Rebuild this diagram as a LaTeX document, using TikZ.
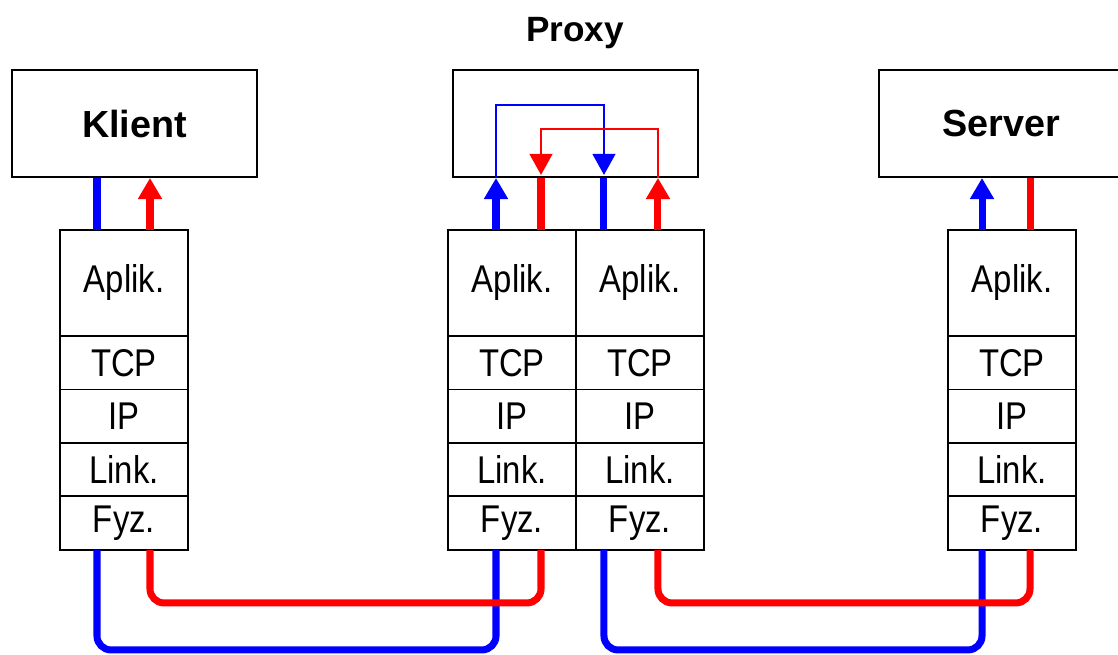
\documentclass[tikz,border=0pt]{standalone}
\usepackage{fontspec}
\newfontfamily\stackfont[FakeStretch=0.85]{Liberation Sans}
\newfontfamily\titlefont{Liberation Sans}
\usetikzlibrary{arrows.meta, positioning, calc}

\begin{document}
\begin{tikzpicture}[
                x=0.02cm, y=-0.02cm,
                node distance=0pt,
                host/.style={draw, line width=1.1pt, minimum width=4.9cm, minimum height=2.14cm,
                    font=\titlefont\fontsize{21.5}{24}\selectfont\bfseries},
                layer/.style={draw, line width=1.1pt, outer sep=0pt, inner sep=0pt,
                    minimum width=2.56cm, font=\stackfont\fontsize{22}{24}\selectfont},
                app/.style={layer, minimum height=2.12cm},
                low/.style={layer, minimum height=1.07cm},
                wire/.style={line width=4pt},
                relay/.style={line width=1.1pt},
                tip/.style={-{Triangle[length=12pt, width=13pt]}}
            ]
                \useasboundingbox (0,0) rectangle (1118,655);
                \node[host] (klient) at (134.5,123.5) {Klient};
                \node[host] (proxy)  at (575.5,123.5) {};
                \node[host] (server) at (1001.5,123.5) {Server};
                \node[font=\titlefont\fontsize{20}{22}\selectfont\bfseries] (plbl) at (575,33) {Proxy};

                \node[app, anchor=north] (kA) at (124,230) {Aplik.};
                \node[low] (kT) [below=of kA] {TCP};
                \node[low] (kI) [below=of kT] {IP};
                \node[low] (kL) [below=of kI] {Link.};
                \node[low] (kF) [below=of kL] {Fyz.};

                \node[app, anchor=north] (plA) at (512,230) {Aplik.};
                \node[low] (plT) [below=of plA] {TCP};
                \node[low] (plI) [below=of plT] {IP};
                \node[low] (plL) [below=of plI] {Link.};
                \node[low] (plF) [below=of plL] {Fyz.};

                \node[app] (prA) [right=of plA] {Aplik.};
                \node[low] (prT) [below=of prA] {TCP};
                \node[low] (prI) [below=of prT] {IP};
                \node[low] (prL) [below=of prI] {Link.};
                \node[low] (prF) [below=of prL] {Fyz.};

                \node[app, anchor=north] (sA) at (1012,230) {Aplik.};
                \node[low] (sT) [below=of sA] {TCP};
                \node[low] (sI) [below=of sT] {IP};
                \node[low] (sL) [below=of sI] {Link.};
                \node[low] (sF) [below=of sL] {Fyz.};

                \coordinate (kb)  at ($(kA.north)+(-27,0)$);
                \coordinate (kr)  at ($(kA.north)+(26,0)$);
                \coordinate (plb) at ($(plA.north)+(-16,0)$);
                \coordinate (plr) at ($(plA.north)+(29,0)$);
                \coordinate (prb) at ($(prA.north)+(-36,0)$);
                \coordinate (prr) at ($(prA.north)+(18,0)$);
                \coordinate (sb)  at ($(sA.north)+(-30,0)$);
                \coordinate (sr)  at ($(sA.north)+(18,0)$);

                \draw[wire, blue]      (kb)  -- (kb |- klient.south);
                \draw[wire, red, tip]  (kr)  -- (kr |- klient.south);
                \draw[wire, blue, tip] (plb) -- (plb |- proxy.south);
                \draw[wire, red]       (plr) -- (plr |- proxy.south);
                \draw[wire, blue]      (prb) -- (prb |- proxy.south);
                \draw[wire, red, tip]  (prr) -- (prr |- proxy.south);
                \draw[wire, blue, tip] (sb)  -- (sb |- server.south);
                \draw[wire, red]       (sr)  -- (sr |- server.south);

                \draw[relay, blue, tip] (plb |- proxy.south) -- ++(0,-73) -| ($(prb |- proxy.south)+(0,-3)$);
                \draw[relay, red, tip]  (prr |- proxy.south) -- ++(0,-49) -| ($(plr |- proxy.south)+(0,-3)$);

                \draw[wire, blue, rounded corners=8pt] (kb |- kF.south)  -- ++(0,100) -| (plb |- plF.south);
                \draw[wire, blue, rounded corners=8pt] (prb |- prF.south) -- ++(0,100) -| (sb |- sF.south);
                \draw[wire, red, rounded corners=8pt]  (kr |- kF.south)  -- ++(0,53) -| (plr |- plF.south);
                \draw[wire, red, rounded corners=8pt]  (prr |- prF.south) -- ++(0,53) -| (sr |- sF.south);
            \end{tikzpicture}
\end{document}
